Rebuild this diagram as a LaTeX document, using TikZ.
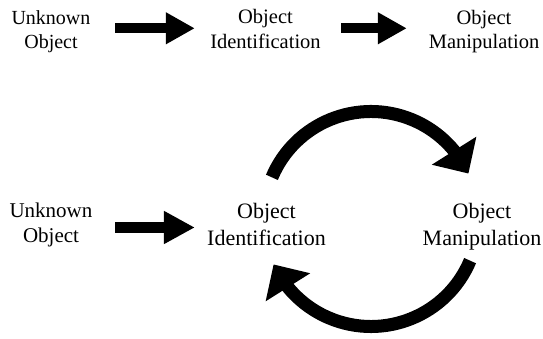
\documentclass[tikz,border=0pt]{standalone}
\usepackage{fontspec}
\setmainfont{Liberation Serif}
\newfontfamily\labelfont{Liberation Serif}
\usetikzlibrary{arrows.meta,bending}

\tikzset{
  lblsmall/.style={inner sep=0pt, align=center, font=\labelfont\fontsize{20}{24}\selectfont},
  lbltop/.style={inner sep=0pt, align=center, font=\labelfont\fontsize{20.5}{24.5}\selectfont},
  lblmid/.style={inner sep=0pt, align=center, font=\labelfont\fontsize{21}{25}\selectfont},
  lblbig/.style={inner sep=0pt, align=center, font=\labelfont\fontsize{22}{27}\selectfont},
  blockarrow/.style={line width=10pt, -{Triangle[width=30pt,length=29pt]}},
  looparrow/.style={line width=13pt, -{Triangle[width=51pt,length=27pt,flex]}}
}

\begin{document}
\begin{tikzpicture}[x=1pt,y=1pt]
  \useasboundingbox (0,0) rectangle (543,339);

  % linear pipeline
  \node[lblsmall] (u1) at (51,307)    {Unknown\\Object};
  \node[lbltop]   (i1) at (265.5,309.8) {Object\\Identification};
  \node[lbltop]   (m1) at (484,307.5) {Object\\Manipulation};
  \coordinate (rowa) at (0,310.7);

  \draw[blockarrow, shorten <=24.6pt, shorten >=15.3pt] (u1.east |- rowa) -- (i1.west |- rowa);
  \draw[blockarrow, shorten <=20.3pt, shorten >=21.8pt] (i1.east |- rowa) -- (m1.west |- rowa);

  % pipeline with feedback loop
  \node[lblmid] (u2) at (51,114.4)    {Unknown\\Object};
  \node[lblbig] (i2) at (266.5,115)   {Object\\Identification};
  \node[lblbig] (m2) at (482,112.6)   {Object\\Manipulation};
  \coordinate (rowb) at (0,111.5);
  \coordinate (loop) at (371,120);

  \draw[blockarrow, line width=11pt, -{Triangle[width=31pt,length=31pt]},
        shorten <=22.6pt, shorten >=12.2pt] (u2.east |- rowb) -- (i2.west |- rowb);

  \draw[looparrow] (loop) ++(157.2:107.5pt) arc[start angle=157.2, end angle=25, radius=107.5pt];
  \draw[looparrow] (loop) ++(337.2:107.5pt) arc[start angle=337.2, end angle=205, radius=107.5pt];
\end{tikzpicture}
\end{document}
